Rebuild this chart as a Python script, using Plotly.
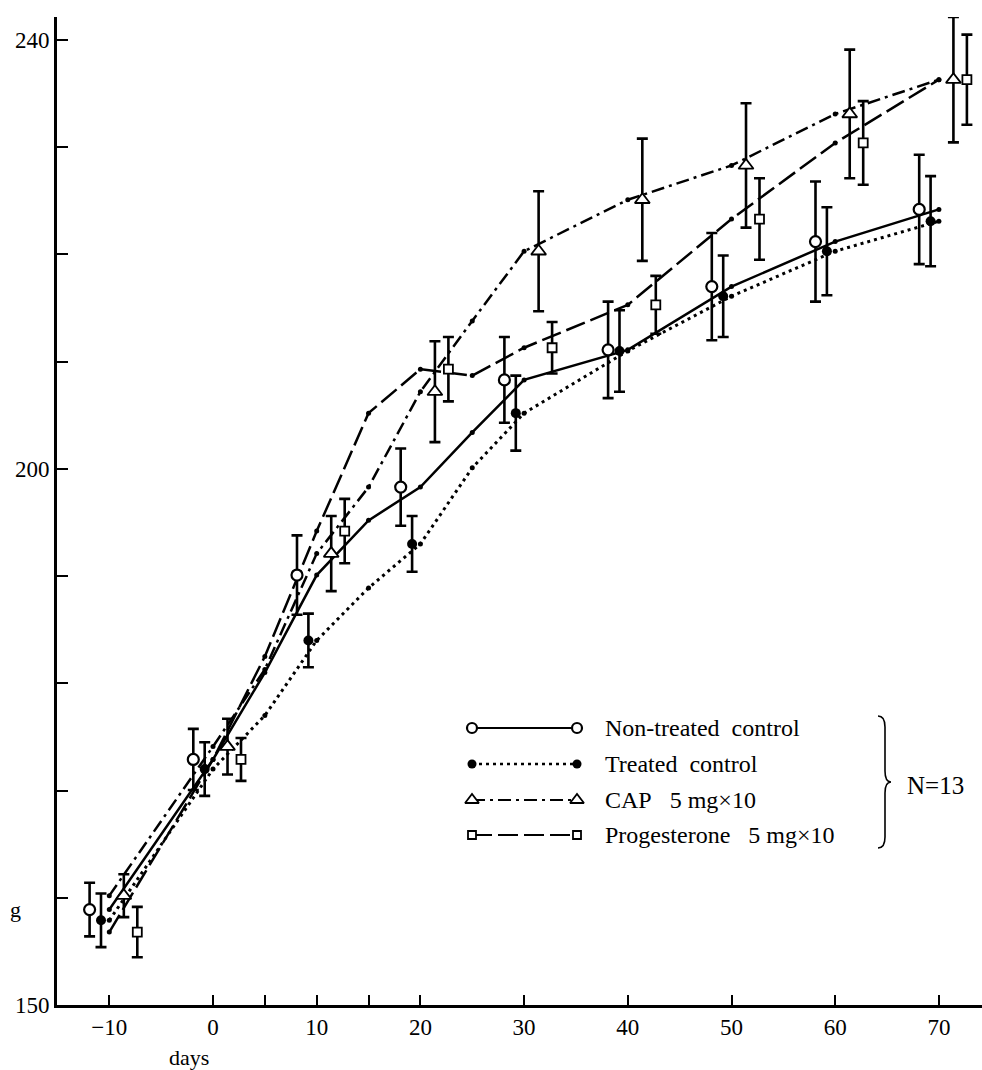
import plotly.graph_objects as go

# ---------------- data ----------------
DAYS = [-10, 0, 5, 10, 15, 20, 25, 30, 40, 50, 60, 70]
NT_MEAN = [158.9, 172.9, 181.0, 190.1, 195.2, 198.3, 203.4, 208.3, 211.1, 217.0, 221.2, 224.2]
T_MEAN = [157.9, 172.0, 177.0, 184.0, 188.9, 193.0, 200.1, 205.2, 211.0, 216.1, 220.3, 223.1]
CAP_MEAN = [160.2, 174.1, 181.3, 192.1, 198.3, 207.2, 213.8, 220.3, 225.1, 228.3, 233.1, 236.3]
PROG_MEAN = [156.8, 172.9, 182.5, 194.2, 205.2, 209.3, 208.7, 211.3, 215.3, 223.3, 230.4, 236.3]

SE_DAYS = [-10, 0, 10, 20, 30, 40, 50, 60, 70]
NT_SE = [2.5, 2.85, 3.7, 3.6, 4.0, 4.5, 5.0, 5.6, 5.1]
T_SE = [2.5, 2.5, 2.5, 2.6, 3.5, 3.8, 3.8, 4.1, 4.2]
CAP_SE = [2.0, 2.6, 3.5, 4.7, 5.6, 5.7, 5.8, 6.0, 5.85]
PROG_SE = [2.35, 2.0, 3.0, 3.0, 2.4, 2.7, 3.8, 3.9, 4.2]

SERIES_NAMES = ["Non-treated\u00a0\u00a0control", "Treated\u00a0\u00a0control",
                "CAP\u00a0\u00a0 5\u00a0mg\u00d710", "Progesterone\u00a0\u00a0 5\u00a0mg\u00d710"]
N_TEXT = "N=13"

X_TICKS = [-10, 0, 5, 10, 15, 20, 30, 40, 50, 60, 70]
X_TICK_TEXT = ["\u221210", "0", "", "10", "", "20", "30", "40", "50", "60", "70"]
Y_TICKS = [150, 160, 170, 180, 190, 200, 210, 220, 230, 240]
Y_TICK_TEXT = ["150", "", "", "", "", "200", "", "", "", "240"]

# ---------------- styles ----------------
FONT = "Liberation Serif, Times New Roman, serif"
W, H = 982, 1070
PL, PR, PT, PB = 57, 982, 17, 1005   # plot-area pixel box

styles = [
    dict(mean=NT_MEAN, se=NT_SE, offset=-1.9, dash="solid", lw=2.5,
         sym="circle-open", msize=11, mlw=2.2),
    dict(mean=T_MEAN, se=T_SE, offset=-0.8, dash="3px,4px", lw=3,
         sym="circle", msize=10, mlw=0),
    dict(mean=CAP_MEAN, se=CAP_SE, offset=1.4, dash="13px,5px,3px,5px", lw=2.5,
         sym="triangle-up", msize=13, mlw=1.8),
    dict(mean=PROG_MEAN, se=PROG_SE, offset=2.7, dash="20px,6px", lw=2.5,
         sym="square", msize=9, mlw=1.8),
]

fig = go.Figure()

# lines through the means with small vertex dots
for s in styles:
    fig.add_trace(go.Scatter(
        x=DAYS, y=s["mean"], mode="lines+markers",
        line=dict(color="black", width=s["lw"], dash=s["dash"]),
        marker=dict(size=5, color="black"),
        showlegend=False, hoverinfo="skip"))

# markers with error bars, staggered horizontally
for s in styles:
    ys = [m for d, m in zip(DAYS, s["mean"]) if d in SE_DAYS]
    xs = [d + s["offset"] for d in SE_DAYS]
    fig.add_trace(go.Scatter(
        x=xs, y=ys, mode="markers",
        marker=dict(symbol=s["sym"].replace("-open", ""), size=s["msize"],
                    color="white" if s["sym"] != "circle" else "black",
                    line=dict(color="black", width=s["mlw"])),
        error_y=dict(type="data", array=s["se"], color="black", thickness=2.6, width=5.5),
        showlegend=False))

# ---------------- custom legend on a pixel-coordinate overlay axis ----------------
LEG_X0, LEG_X1, LEG_TX = 472, 577, 603
LEG_ROWS = [728, 764, 800, 835]
for s, row, name in zip(styles, LEG_ROWS, SERIES_NAMES):
    fig.add_trace(go.Scatter(
        x=[LEG_X0, LEG_X1], y=[row, row], xaxis="x2", yaxis="y2",
        mode="lines+markers",
        line=dict(color="black", width=s["lw"] - 0.3, dash=s["dash"]),
        marker=dict(symbol=s["sym"].replace("-open", ""), size=s["msize"] - 1,
                    color="white" if s["sym"] != "circle" else "black",
                    line=dict(color="black", width=s["mlw"])),
        showlegend=False, hoverinfo="skip"))

annotations = []
for row, name in zip(LEG_ROWS, SERIES_NAMES):
    annotations.append(dict(x=LEG_TX, y=row, xref="x2", yref="y2", text=name,
                            showarrow=False, xanchor="left", yanchor="middle",
                            font=dict(family=FONT, size=24, color="black")))
annotations.append(dict(x=905, y=785, xref="x2", yref="y2", text=N_TEXT,
                        showarrow=False, xanchor="left", yanchor="middle",
                        font=dict(family=FONT, size=25, color="black")))


def paper(px, py):
    return (px - PL) / (PR - PL), (PB - py) / (PB - PT)


gx, gy = paper(15, 909)
annotations.append(dict(x=gx, y=gy, xref="paper", yref="paper", text="g",
                        showarrow=False, xanchor="center", yanchor="middle",
                        font=dict(family=FONT, size=22, color="black")))
dx, dy = paper(189, 1057)
annotations.append(dict(x=dx, y=dy, xref="paper", yref="paper", text="days",
                        showarrow=False, xanchor="center", yanchor="middle",
                        font=dict(family=FONT, size=22, color="black")))

brace = ("M 878,716 Q 885,716 885,727 L 885,771 Q 885,782 891,782 "
         "Q 885,782 885,793 L 885,837 Q 885,848 878,848")
shapes = [dict(type="path", path=brace, xref="x2", yref="y2",
               line=dict(color="black", width=1.6))]

PX_PER_DAY = 10.37
ZERO_PX = 213
x_range = [(PL - ZERO_PX) / PX_PER_DAY, (PR - ZERO_PX) / PX_PER_DAY]
y_top = 240 + (40 - PT) / ((PB - 40) / 90.0)

fig.update_layout(
    width=W, height=H,
    margin=dict(l=PL, r=W - PR, t=PT, b=H - PB, pad=0),
    plot_bgcolor="white", paper_bgcolor="white",
    font=dict(family=FONT, size=22, color="black"),
    xaxis=dict(range=x_range, tickvals=X_TICKS, ticktext=X_TICK_TEXT,
               ticks="inside", ticklen=10, tickwidth=2, tickcolor="black",
               showline=True, linewidth=2.6, linecolor="black",
               showgrid=False, zeroline=False,
               tickfont=dict(family=FONT, size=23, color="black")),
    yaxis=dict(range=[150, y_top], tickvals=Y_TICKS, ticktext=Y_TICK_TEXT,
               ticks="inside", ticklen=11, tickwidth=2, tickcolor="black",
               showline=True, linewidth=2.8, linecolor="black",
               showgrid=False, zeroline=False,
               tickfont=dict(family=FONT, size=23, color="black")),
    xaxis2=dict(range=[PL, PR], overlaying="x", visible=False, fixedrange=True),
    yaxis2=dict(range=[PB, PT], overlaying="y", visible=False, fixedrange=True),
    annotations=annotations,
    shapes=shapes,
    showlegend=False,
)

fig.write_html("out.html", config={"displayModeBar": False},
               post_script="document.body.style.margin='0px';")
